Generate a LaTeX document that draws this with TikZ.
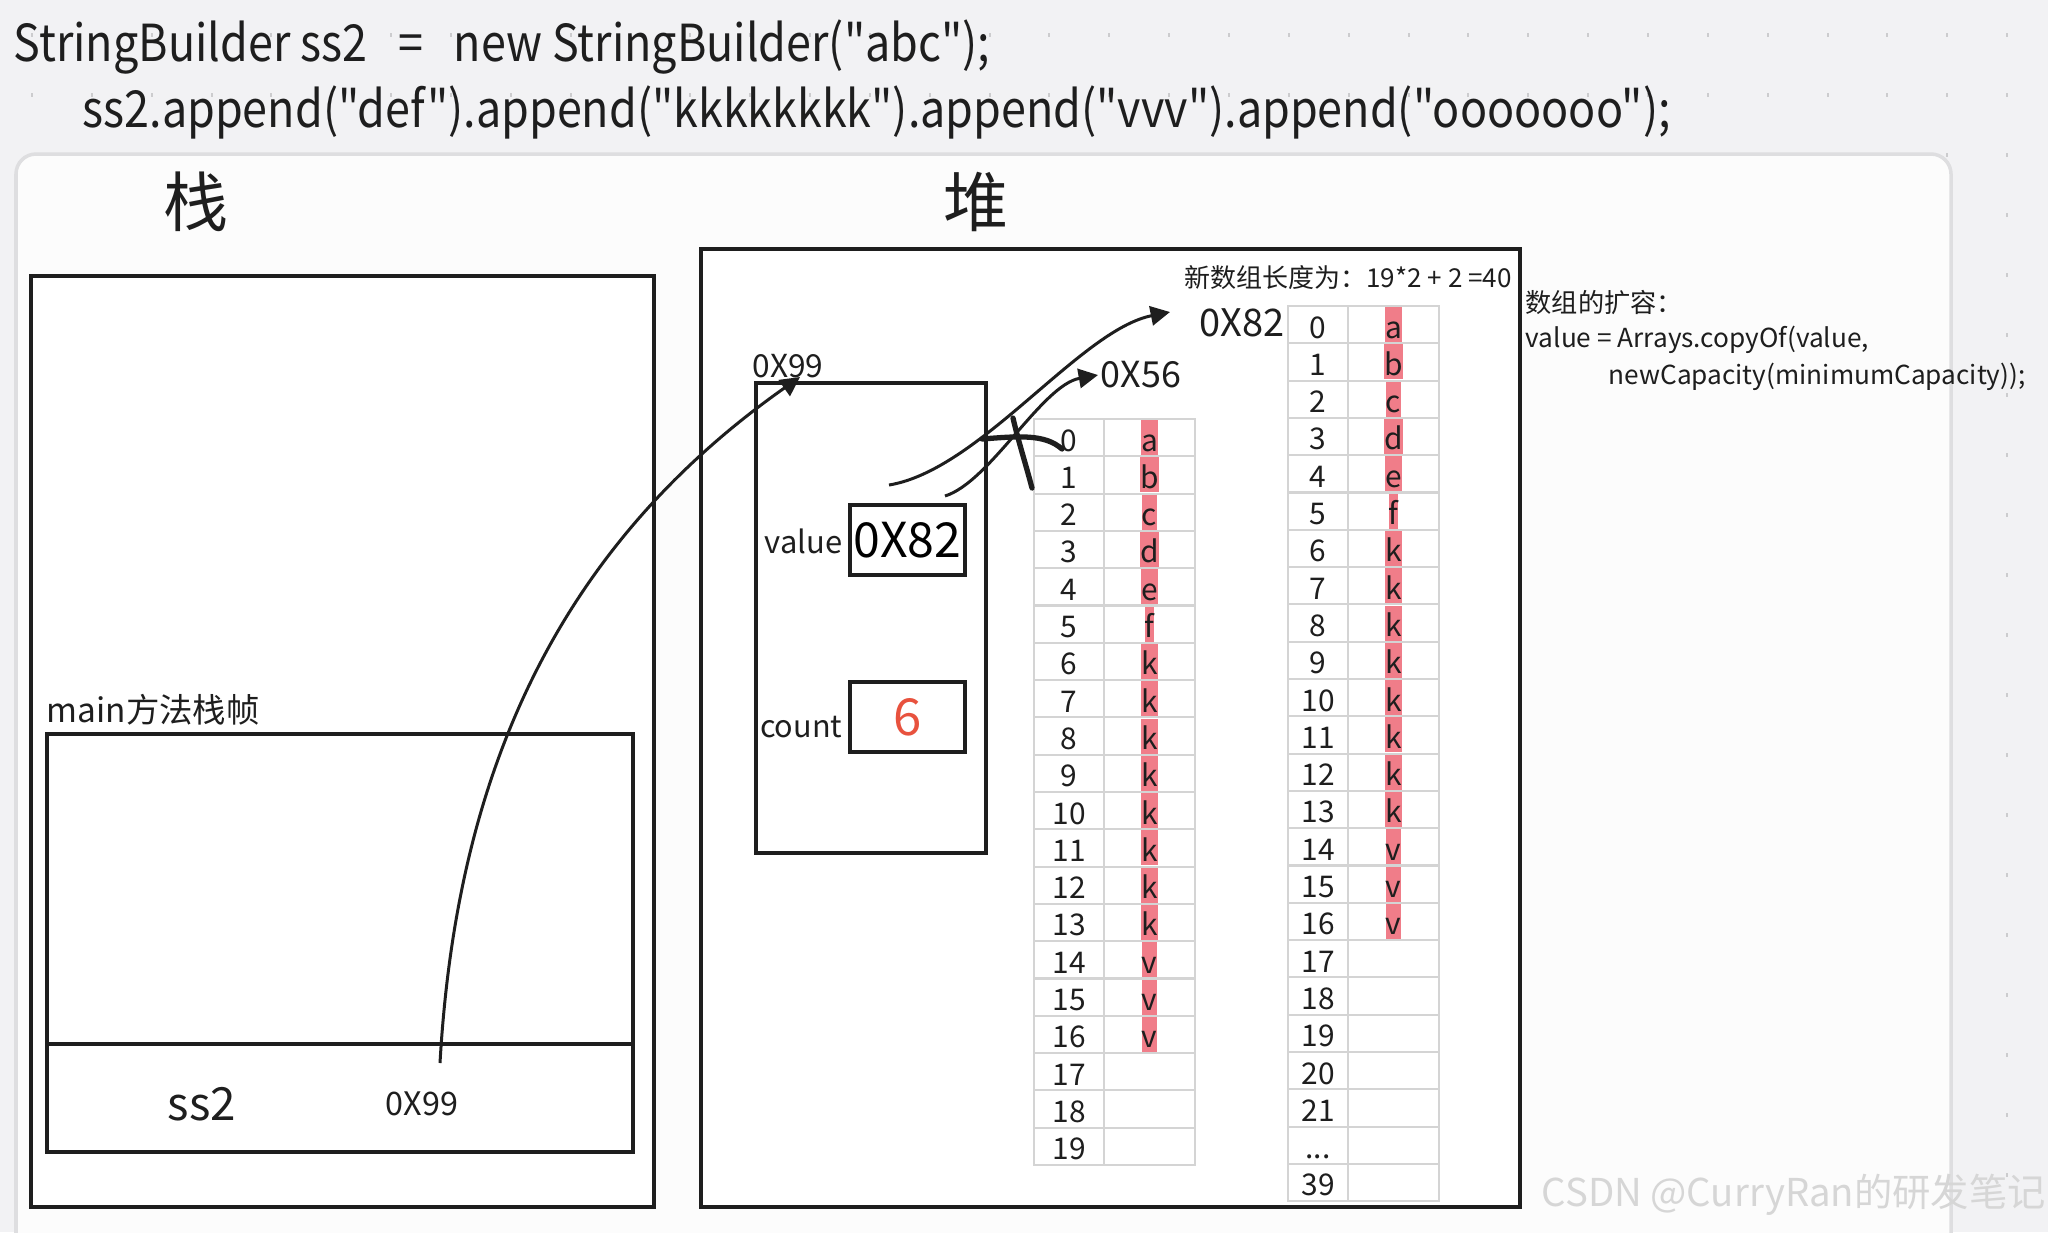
\documentclass[tikz,border=0pt]{standalone}
\usepackage{fontspec}
\newfontfamily\cjkfont{Noto Sans CJK SC}
\newfontfamily\codefont{Noto Sans CJK SC}[FakeStretch=0.88]
\usetikzlibrary{arrows.meta,positioning,calc}
\definecolor{bggray}{RGB}{242,242,244}
\definecolor{panelbg}{RGB}{252,252,252}
\definecolor{panelline}{RGB}{222,222,224}
\definecolor{griddot}{RGB}{204,204,206}
\definecolor{inkblack}{RGB}{30,30,30}
\definecolor{cellline}{RGB}{212,212,212}
\definecolor{hlpink}{RGB}{240,125,137}
\definecolor{countred}{RGB}{232,82,62}
\definecolor{markgray}{RGB}{214,214,214}
\newcommand{\fsz}[1]{\cjkfont\fontsize{#1}{#1}\selectfont}
\tikzset{
  box/.style={draw=inkblack,line width=1pt,fill=white,inner sep=0},
  txt/.style={inner sep=0,text=inkblack},
  codeline/.style={inner sep=0,text=inkblack,anchor=base west,
                   font=\codefont\fontsize{14.5}{14.5}\selectfont},
  ptr/.style={-{Triangle[length=5.5pt,width=5.5pt]},line width=0.85pt,inkblack},
  cell/.style={draw=cellline,line width=0.6pt,fill=white,inner sep=0,
               minimum height=0.373cm,text height=7.6pt,text depth=0pt,
               font=\fsz{8.5},text=inkblack},
  hl/.style={fill=hlpink,inner xsep=0pt,inner ysep=0pt,minimum height=0.35cm,
             text height=7.6pt,text depth=0pt,font=\fsz{8.5},text=inkblack},
}

\begin{document}
\begin{tikzpicture}[x=0.01cm,y=-0.01cm]
  \useasboundingbox (0,0) rectangle (2048,1232);
  \clip (0,0) rectangle (2048,1232);
  % background with dot grid
  \fill[bggray] (0,0) rectangle (2048,1232);
  \foreach \i in {0,...,33}
    \foreach \j in {0,...,20}
      \fill[griddot] ({32+59.85*\i-1},{35+60*\j-2}) rectangle ++(2,4);

  % code lines
  \node[codeline] (code1) at (13,61)
        {StringBuilder ss2\ \ \hspace{3pt}=\ \ \hspace{3pt}new StringBuilder("abc");};
  \node[codeline] (code2) at (82,127)
        {ss2.append("def").append("kkkkkkkk").append("vvv").append("ooooooo");};

  % white panel
  \draw[fill=panelbg,draw=panelline,line width=1pt,rounded corners=0.2cm]
        (16,154) rectangle (1951,1300);

  % stack side
  \node[txt,font=\fsz{18.5}] (zhan) at (196,202) {栈};
  \draw[box] (31,276) rectangle (654,1207);
  \node[txt,anchor=south west,font=\fsz{9.5}] (mainlbl) at (46,726) {main方法栈帧};
  \draw[box] (47,734) rectangle (633,1152);
  \draw[inkblack,line width=1pt] (47,1044) -- (633,1044);
  \node[txt,font=\fsz{13}] (ss2) at (202,1104) {ss2};
  \node[txt,font=\fsz{9.2}] (stk99) at (422,1104) {0X99};
  \coordinate (ref99) at (440,1063);

  % heap side
  \node[txt,font=\fsz{18.5}] (dui) at (976,202) {堆};
  \draw[box] (701,249) rectangle (1520,1207);

  % StringBuilder object
  \node[box,minimum width=2.30cm,minimum height=4.70cm] (obj) at (871,618) {};
  \node[txt,font=\fsz{9}] (obj99) at (788,366) {0X99};
  \coordinate (tip99) at (800,377);
  \node[box,minimum width=1.15cm,minimum height=0.70cm,font=\fsz{13.7}] (valbox) at (907.5,540) {0X82};
  \node[txt,anchor=east,font=\fsz{8.8}] (vallbl) at (843,541) {value};
  \node[box,minimum width=1.15cm,minimum height=0.70cm,font=\fsz{14.5},text=countred] (cntbox) at (907.5,717) {6};
  \node[txt,anchor=east,font=\fsz{8.7}] (cntlbl) at (843,727) {count};

  % old array 0X56
  \node[txt,anchor=west,font=\fsz{10.2}] (lbl56) at (1100,375) {0X56};
  \foreach \r in {0,...,19}{
    \node[cell,minimum width=0.70cm] (oi\r) at (1069,{437.65+37.3*\r}) {\r};
    \node[cell,minimum width=0.91cm] (ov\r) at (1149.5,{437.65+37.3*\r}) {};
  }
  \foreach \ch [count=\r from 0] in {a,b,c,d,e,f,k,k,k,k,k,k,k,k,v,v,v}
    \node[hl] at (ov\r) {\ch};

  % new array 0X82
  \node[txt,font=\fsz{7.4}] (newlen) at (1348,278) {新数组长度为：19*2 + 2 =40};
  \node[txt,anchor=west,font=\fsz{10.8}] (lbl82) at (1199,323) {0X82};
  \foreach \r in {0,...,21}{
    \node[cell,minimum width=0.60cm] (ni\r) at (1318,{324.65+37.3*\r}) {\r};
    \node[cell,minimum width=0.91cm] (nv\r) at (1393.5,{324.65+37.3*\r}) {};
  }
  \node[cell,minimum width=0.60cm] (ni22) at (1318,{324.65+37.3*22}) {...};
  \node[cell,minimum width=0.91cm] (nv22) at (1393.5,{324.65+37.3*22}) {};
  \node[cell,minimum width=0.60cm] (ni23) at (1318,{324.65+37.3*23}) {39};
  \node[cell,minimum width=0.91cm] (nv23) at (1393.5,{324.65+37.3*23}) {};
  \foreach \ch [count=\r from 0] in {a,b,c,d,e,f,k,k,k,k,k,k,k,k,v,v,v}
    \node[hl] at (nv\r) {\ch};

  % pointers
  \coordinate (from82) at (889,485);
  \coordinate (tip82) at (1170,312);
  \coordinate (from56) at (945,496);
  \coordinate (tip56) at (1098,375);
  \draw[ptr] (ref99) .. controls (455,800) and (540,560) .. (tip99);
  \draw[ptr] (from82) .. controls (980,470) and (1080,330) .. (tip82);
  \draw[ptr] (from56) .. controls (990,482) and (1042,385) .. (tip56);

  % cross over the old reference
  \draw[inkblack,line width=1.5pt,line cap=round]
        (982,439) .. controls (1020,436) and (1045,434) .. (1062,449);
  \draw[inkblack,line width=1.5pt,line cap=round]
        (1013,418) .. controls (1018,440) and (1026,465) .. (1032,488);

  % note on growth
  \node[txt,anchor=west,font=\fsz{7.45}] (note1) at (1525,303) {数组的扩容：};
  \node[txt,anchor=west,font=\fsz{7.45}] (note2) at (1525,340) {value = Arrays.copyOf(value,};
  \node[txt,anchor=west,font=\fsz{7.45}] (note3) at (1608,377) {newCapacity(minimumCapacity));};

  % watermark
  \node[inner sep=0,anchor=west,text=markgray,font=\fsz{10.9}] (mark) at (1541,1195)
        {CSDN @CurryRan的研发笔记};
\end{tikzpicture}
\end{document}
